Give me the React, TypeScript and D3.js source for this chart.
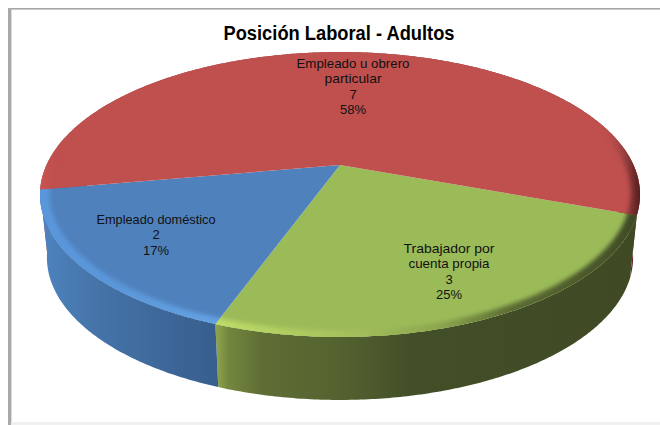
import React from "react";
import * as d3 from "d3";

const title = "Posición Laboral - Adultos";
const categories = ["Trabajador por cuenta propia", "Empleado doméstico", "Empleado u obrero particular"];
const values = [3, 2, 7];
const percents = ["25%", "17%", "58%"];
const topColors = ["#9bbb59", "#4f81bd", "#bf504e"];
const labelLines = [["Trabajador por", "cuenta propia"], ["Empleado doméstico"], ["Empleado u obrero", "particular"]];
const labelWidths = [[91, 81], [119], [113, 57]];
const labelAnchors: [number, number][] = [[449, 248], [156, 219], [353, 63]];

const W = 660, H = 425;
const cx = 340, apexY = 165, persp = -0.207, kY = 102.2, kX = 293.5;
const depth = 63, shrink = 0.977;
const startDeg = 110;

const project = (theta: number, r: number): [number, number] => {
  const u = r * Math.sin(theta), v = -r * Math.cos(theta);
  const d = persp * v + 1;
  return [cx + (kX * u) / d, (kY * v + apexY) / d];
};
const projectBottom = (theta: number): [number, number] => {
  const [x, y] = project(theta, 1);
  return [cx + (x - cx) * shrink, y + depth];
};
const sample = (a: number, b: number) => {
  const n = Math.max(2, Math.ceil(Math.abs(b - a) / 0.01));
  return d3.range(n + 1).map((i) => a + ((b - a) * i) / n);
};

const pie = d3.pie<number>().sort(null).startAngle((startDeg * Math.PI) / 180).endAngle(((startDeg + 360) * Math.PI) / 180);
const arcs = pie(values);
const line = d3.line();

const topPath = (a: number, b: number) =>
  line([project(a, 0), ...sample(a, b).map((t) => project(t, 1))])! + "Z";
const sidePath = (a: number, b: number) => {
  const ts = sample(a, b);
  return line([...ts.map((t) => project(t, 1)), ...ts.slice().reverse().map(projectBottom)])! + "Z";
};
const ringPath = (a: number, b: number, inner: number) => {
  const ts = sample(a - 0.1, b + 0.1);
  return line([...ts.map((t) => project(t, 1.08)), ...ts.slice().reverse().map((t) => project(t, inner))])! + "Z";
};

type Stop = [number, string, number];
const sideStops: Stop[][] = [
  [[218, "#8ba14a", 1], [228, "#74873e", 1], [262, "#5f6e35", 1], [340, "#546230", 1], [410, "#434f27", 1], [640, "#3f4a25", 1]],
  [[40, "#4e84c0", 1], [90, "#4675aa", 1], [150, "#3f6a9c", 1], [218, "#375e8d", 1]],
  [[40, "#a84644", 1], [600, "#7a2e2c", 1], [625, "#6b2625", 1], [642, "#4e1a1a", 1]],
];
const rimStops: Stop[][] = [
  [[218, "#bddc68", 1], [300, "#aecb60", 1], [370, "#9fbb5a", 1], [440, "#8ba54e", 1], [510, "#5c6d33", 1], [640, "#3f4a25", 1]],
  [[40, "#5a97da", 1], [120, "#5a97da", 1], [218, "#64a2e2", 1]],
  [[40, "#d25654", 0.7], [58, "#bf504e", 0], [600, "#bf504e", 0], [625, "#8a3a3a", 0.8], [642, "#4a1818", 1]],
];
const xScale = d3.scaleLinear().domain([0, W]).range([0, 100]);

const gradient = (id: string, stops: Stop[]) => (
  <linearGradient key={id} id={id} gradientUnits="userSpaceOnUse" x1={0} y1={0} x2={W} y2={0}>
    {stops.map(([x, c, o], i) => (
      <stop key={i} offset={`${xScale(x)}%`} stopColor={c} stopOpacity={o} />
    ))}
  </linearGradient>
);

const font = "'Liberation Sans', Arial, sans-serif";

export default function App() {
  return (
    <svg width={W} height={H} viewBox={`0 0 ${W} ${H}`} style={{ position: "absolute", left: 0, top: 0, background: "#fff" }}>
      <defs>
        {sideStops.map((s, i) => gradient(`side${i}`, s))}
        {rimStops.map((s, i) => gradient(`rim${i}`, s))}
        <filter id="soft" x="-10%" y="-10%" width="120%" height="120%">
          <feGaussianBlur stdDeviation="2" />
        </filter>
        {arcs.map((a, i) => (
          <clipPath key={i} id={`clip${i}`}>
            <path d={topPath(a.startAngle, a.endAngle)} />
          </clipPath>
        ))}
      </defs>

      <rect x={0} y={0} width={W} height={H} fill="#fff" />
      <rect x={8} y={8} width={W - 8} height={1.6} fill="#a6a6a6" />
      <rect x={8} y={8} width={3.4} height={H - 8} fill="#a9a9a9" />
      <rect x={11} y={422} width={W - 11} height={3} fill="#f0f0f0" />

      <text x={339} y={39.5} textAnchor="middle" fontFamily={font} fontWeight="bold" fontSize={20} textLength={231} lengthAdjust="spacingAndGlyphs" fill="#000">
        {title}
      </text>

      {[2, 0, 1].map((i) => (
        <path key={`s${i}`} d={sidePath(arcs[i].startAngle, arcs[i].endAngle)} fill={`url(#side${i})`} />
      ))}
      {arcs.map((a, i) => (
        <path key={`t${i}`} d={topPath(a.startAngle, a.endAngle)} fill={topColors[i]} />
      ))}
      {arcs.map((a, i) => (
        <g key={`r${i}`} clipPath={`url(#clip${i})`}>
          <path d={ringPath(a.startAngle, a.endAngle, 0.97)} fill={`url(#rim${i})`} filter="url(#soft)" />
        </g>
      ))}

      {arcs.map((a, i) => {
        const [x, y0] = labelAnchors[i];
        const named = labelLines[i];
        const lines = [...named, String(values[i]), percents[i]];
        return (
          <g key={`l${i}`} fontFamily={font} fontSize={13} fill="#111" textAnchor="middle">
            {lines.map((t, j) => (
              <text key={j} x={x} y={y0 + j * 15.6 + 4.5} textLength={labelWidths[i][j]} lengthAdjust={labelWidths[i][j] ? "spacingAndGlyphs" : undefined}>{t}</text>
            ))}
          </g>
        );
      })}
    </svg>
  );
}
